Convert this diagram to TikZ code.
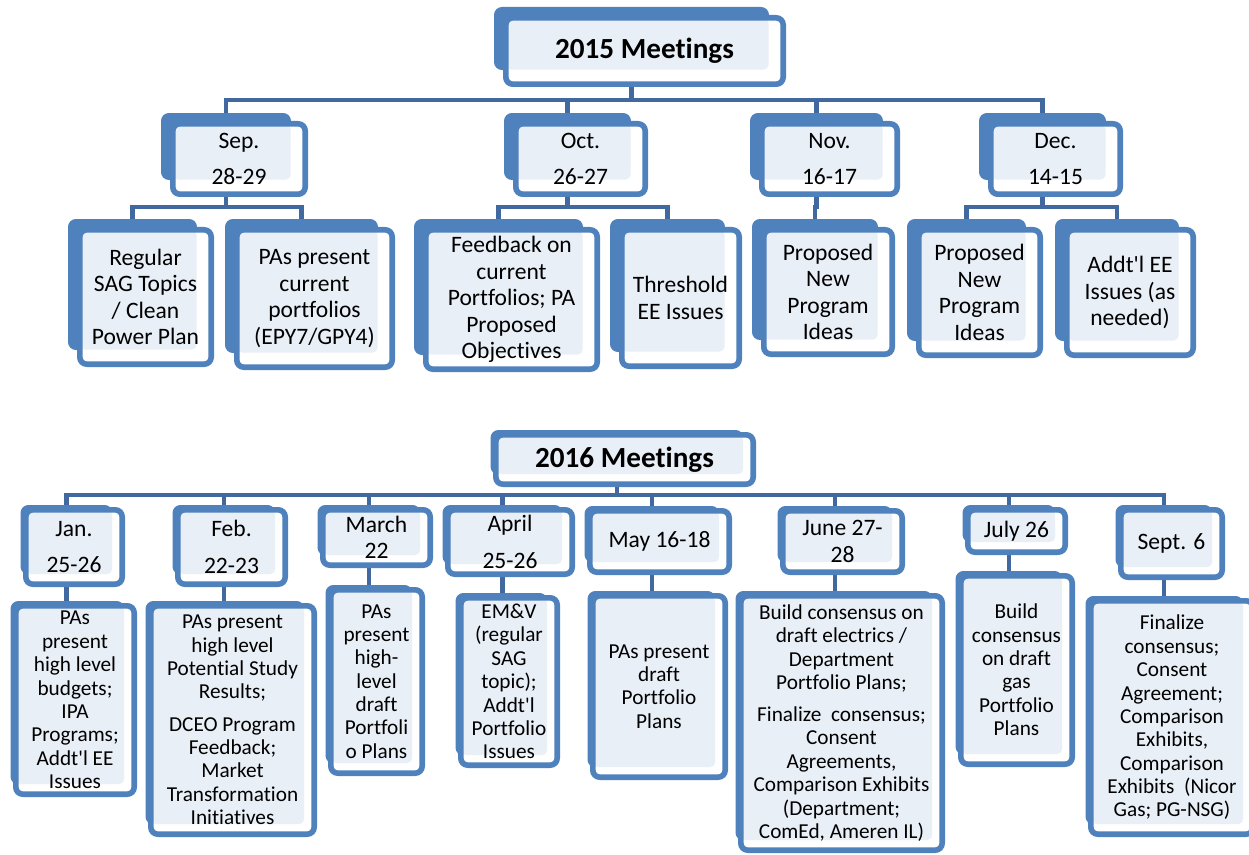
\documentclass[tikz,border=0pt]{standalone}
\usepackage{fontspec}
\setmainfont{Carlito}[RawFeature={-liga;-clig;-calt;-dlig}]
\usetikzlibrary{backgrounds}

\definecolor{boxblue}{HTML}{4F81BD}
\definecolor{boxlight}{HTML}{E9EFF7}
\definecolor{linkblue}{HTML}{41699F}

\tikzset{
  box/.style={rectangle,rounded corners=4pt,draw=boxblue,line width=3.2pt,
    fill=white,align=center,inner sep=1pt,
    font=\fontsize{13.4}{15.1}\selectfont},
  boxsize/.style 2 args={minimum width=#1*0.02cm-3.2pt,minimum height=#2*0.02cm-3.2pt},
  light/.style={path picture={\fill[boxlight,rounded corners=3pt]
    (path picture bounding box.north west) rectangle
    ([shift={(-#1,#1)}]path picture bounding box.south east);}},
  bigbox/.style={box,light=0.29cm},
  smallbox/.style={box,light=0.20cm},
  small/.style={font=\fontsize{12.1}{13.3}\selectfont},
  title/.style={font=\fontsize{16.6}{20}\selectfont\bfseries},
  link/.style={draw=linkblue,line width=2.8pt}
}

\begin{document}
\begin{tikzpicture}[x=0.02cm,y=-0.02cm]
\useasboundingbox (0,0) rectangle (1249,855);

% 2015
\node[bigbox,title,boxsize={283}{72}] (t15) at (644.5,51) {2015 Meetings};

\node[bigbox,boxsize={138}{76}] (sep) at (239,159) {Sep.\\[5.9pt]28-29};
\node[bigbox,boxsize={135}{76}] (oct) at (580.5,159) {Oct.\\[5.9pt]26-27};
\node[bigbox,boxsize={141}{76}] (nov) at (829.5,159) {Nov.\\[5.9pt]16-17};
\node[bigbox,boxsize={135}{76}] (dec) at (1055.5,159) {Dec.\\[5.9pt]14-15};

\node[bigbox,boxsize={137}{140}] (sepa) at (145.5,297) {Regular\\SAG Topics\\/ Clean\\Power Plan};
\node[bigbox,boxsize={161}{143}] (sepb) at (314.5,298.5) {PAs present\\current\\portfolios\\(EPY7/GPY4)};
\node[bigbox,boxsize={177}{145}] (octa) at (511.5,299.5) {Feedback on\\current\\Portfolios; PA\\Proposed\\Objectives};
\node[bigbox,boxsize={123}{142}] (octb) at (680.5,298) {Threshold\\EE Issues};
\node[bigbox,boxsize={134}{130}] (nova) at (828,292) {Proposed\\New\\Program\\Ideas};
\node[bigbox,boxsize={127}{131}] (deca) at (979.5,292.5) {Proposed\\New\\Program\\Ideas};
\node[bigbox,boxsize={132}{131}] (decb) at (1130,292.5) {Addt\textquotesingle l EE\\Issues (as\\needed)};

% 2016
\node[smallbox,title,boxsize={263}{55}] (t16) at (624.5,459.5) {2016 Meetings};

\node[smallbox,boxsize={102}{80}] (jan) at (74,547) {Jan.\\[5.7pt]25-26};
\node[smallbox,boxsize={113}{80}] (feb) at (231.5,547) {Feb.\\[5.7pt]22-23};
\node[smallbox,boxsize={113}{61}] (mar) at (376.5,537.5) {March\\22};
\node[smallbox,boxsize={130}{70}] (apr) at (510,542) {April\\[5.7pt]25-26};
\node[smallbox,boxsize={145}{67}] (may) at (659.5,541.5) {May 16-18};
\node[smallbox,boxsize={125}{67}] (jun) at (842.5,541.5) {June 27-\\28};
\node[smallbox,boxsize={103}{48}] (jul) at (1016.5,531) {July 26};
\node[smallbox,boxsize={107}{73}] (sept) at (1171.5,543.5) {Sept. 6};

\node[smallbox,small,boxsize={124}{194}] (jana) at (75,700)
  {PAs\\present\\high level\\budgets;\\IPA\\Programs;\\Addt\textquotesingle l EE\\Issues};
\node[smallbox,small,boxsize={169}{234}] (feba) at (232.5,720)
  {PAs present\\high level\\Potential Study\\Results;\\[5pt]DCEO Program\\Feedback;\\Market\\Transformation\\Initiatives};
\node[smallbox,small,boxsize={97}{189}] (mara) at (376.5,681.5)
  {PAs\\present\\high-\\level\\draft\\Portfoli\\o Plans};
\node[smallbox,small,boxsize={102}{173}] (apra) at (509,681.5)
  {EM\&V\\(regular\\SAG\\topic);\\Addt\textquotesingle l\\Portfolio\\Issues};
\node[smallbox,small,boxsize={138}{187}] (maya) at (659,686.5)
  {PAs present\\draft\\Portfolio\\Plans};
\node[smallbox,small,boxsize={207}{260}] (juna) at (841.5,723)
  {Build consensus on\\draft electrics /\\Department\\Portfolio Plans;\\[5pt]Finalize\ \ consensus;\\Consent\\Agreements,\\Comparison Exhibits\\(Department;\\ComEd, Ameren IL)};
\node[smallbox,small,boxsize={117}{194}] (jula) at (1016.5,670)
  {Build\\consensus\\on draft\\gas\\Portfolio\\Plans};
\node[smallbox,small,boxsize={168}{239}] (septa) at (1172,717.5)
  {Finalize\\consensus;\\Consent\\Agreement;\\Comparison\\Exhibits,\\Comparison\\Exhibits\ \ (Nicor\\Gas; PG-NSG)};

\begin{scope}[on background layer]
% connectors 2015
\draw[link] ([shift={(-13,0)}]t15.south) -- ++(0,13) -| ([shift={(-13,0)}]sep.north);
\draw[link] ([shift={(-13,0)}]t15.south) -- ++(0,13) -| ([shift={(-13,0)}]oct.north);
\draw[link] ([shift={(-13,0)}]t15.south) -- ++(0,13) -| ([shift={(-13,0)}]nov.north);
\draw[link] ([shift={(-13,0)}]t15.south) -- ++(0,13) -| ([shift={(-13,0)}]dec.north);
\draw[link] ([shift={(-13,0)}]sep.south) -- ++(0,10) -| ([shift={(-13,0)}]sepa.north);
\draw[link] ([shift={(-13,0)}]sep.south) -- ++(0,10) -| ([shift={(-13,0)}]sepb.north);
\draw[link] ([shift={(-13,0)}]oct.south) -- ++(0,10) -| ([shift={(-13,0)}]octa.north);
\draw[link] ([shift={(-13,0)}]oct.south) -- ++(0,10) -| ([shift={(-13,0)}]octb.north);
\draw[link] ([shift={(-13,0)}]nov.south) -- ++(0,10) -| ([shift={(-13,0)}]nova.north);
\draw[link] ([shift={(-13,0)}]dec.south) -- ++(0,10) -| ([shift={(-13,0)}]deca.north);
\draw[link] ([shift={(-13,0)}]dec.south) -- ++(0,10) -| ([shift={(-13,0)}]decb.north);

% connectors 2016
\draw[link] ([shift={(-7.5,0)}]t16.south) -- ++(0,8) -| ([shift={(-7.5,0)}]jan.north);
\draw[link] ([shift={(-7.5,0)}]t16.south) -- ++(0,8) -| ([shift={(-7.5,0)}]feb.north);
\draw[link] ([shift={(-7.5,0)}]t16.south) -- ++(0,8) -| ([shift={(-7.5,0)}]mar.north);
\draw[link] ([shift={(-7.5,0)}]t16.south) -- ++(0,8) -| ([shift={(-7.5,0)}]apr.north);
\draw[link] ([shift={(-7.5,0)}]t16.south) -- ++(0,8) -| ([shift={(-7.5,0)}]may.north);
\draw[link] ([shift={(-7.5,0)}]t16.south) -- ++(0,8) -| ([shift={(-7.5,0)}]jun.north);
\draw[link] ([shift={(-7.5,0)}]t16.south) -- ++(0,8) -| ([shift={(-7.5,0)}]jul.north);
\draw[link] ([shift={(-7.5,0)}]t16.south) -- ++(0,8) -| ([shift={(-7.5,0)}]sept.north);
\draw[link] ([shift={(-7.5,0)}]jan.south) -- ([shift={(-7.5,0)}]jan.south |- jana.north);
\draw[link] ([shift={(-7.5,0)}]feb.south) -- ([shift={(-7.5,0)}]feb.south |- feba.north);
\draw[link] ([shift={(-7.5,0)}]mar.south) -- ([shift={(-7.5,0)}]mar.south |- mara.north);
\draw[link] ([shift={(-7.5,0)}]apr.south) -- ([shift={(-7.5,0)}]apr.south |- apra.north);
\draw[link] ([shift={(-7.5,0)}]may.south) -- ([shift={(-7.5,0)}]may.south |- maya.north);
\draw[link] ([shift={(-7.5,0)}]jun.south) -- ([shift={(-7.5,0)}]jun.south |- juna.north);
\draw[link] ([shift={(-7.5,0)}]jul.south) -- ([shift={(-7.5,0)}]jul.south |- jula.north);
\draw[link] ([shift={(-7.5,0)}]sept.south) -- ([shift={(-7.5,0)}]sept.south |- septa.north);

% blue plates behind the boxes
\foreach \n in {t15,sep,oct,nov,dec,sepa,sepb,octa,octb,nova,deca,decb}
  \fill[boxblue,rounded corners=4.5pt] ([shift={(-0.18cm,0.16cm)}]\n.north west)
    rectangle ([shift={(-0.34cm,0.34cm)}]\n.south east);
\foreach \n in {t16,jan,feb,mar,apr,may,jun,jul,sept,jana,feba,mara,apra,maya,juna,jula,septa}
  \fill[boxblue,rounded corners=4.5pt] ([shift={(-0.05cm,0.04cm)}]\n.north west)
    rectangle ([shift={(-0.25cm,0.25cm)}]\n.south east);
\end{scope}

\end{tikzpicture}
\end{document}
